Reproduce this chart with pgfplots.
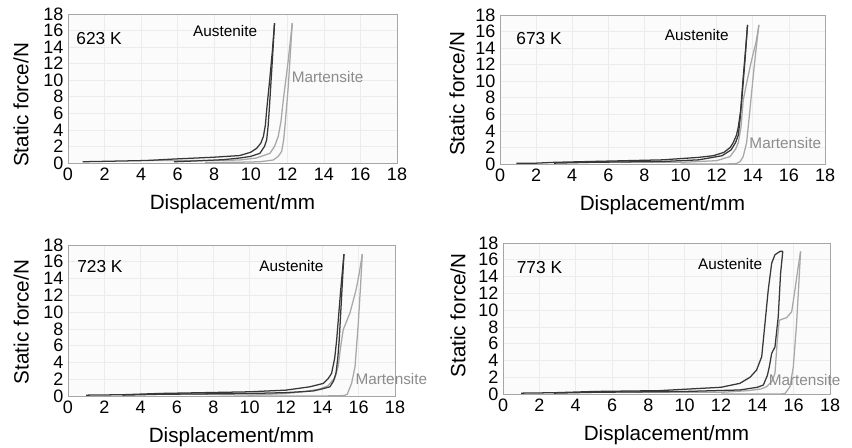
\documentclass[border=0pt]{standalone}
\usepackage{fontspec}
\setmainfont{Liberation Sans}
\usepackage{pgfplots}
\pgfplotsset{compat=1.18}

% curve colours
\definecolor{aus}{gray}{0.22}
\definecolor{mar}{gray}{0.66}

\tikzset{
  a/.style={aus, line width=0.95pt},
  m/.style={mar, line width=0.95pt},
  tag/.style={font=\fontsize{13}{13}\selectfont, anchor=west},
  lbl/.style={font=\fontsize{11.5}{11.5}\selectfont},
}

\pgfplotsset{
  panel/.style={
    scale only axis,
    anchor=south west,
    xmin=0, xmax=18, ymin=0, ymax=18,
    xtick={0,2,...,18}, ytick={0,2,...,18},
    major tick length=0pt,
    grid=major,
    major grid style={gray!15, line width=0.5pt},
    axis background/.style={fill=gray!3},
    axis line style={gray!70, line width=0.6pt},
    /pgf/number format/assume math mode=true,
    ticklabel style={font=\fontsize{13.5}{13.5}\selectfont},
    label style={font=\fontsize{15.5}{15.5}\selectfont},
    xlabel={Displacement/mm},
    ylabel={Static force/N},
    xlabel style={at={(axis description cs:0.5,-0.18)}, anchor=north},
    clip=false,
  },
}

\begin{document}
\begin{tikzpicture}
\useasboundingbox (0,0) rectangle (639pt,336pt);

% 623 K
\begin{axis}[panel, at={(51pt,213.75pt)}, width=246.75pt, height=111.75pt,
  ylabel style={at={(axis description cs:-0.143,0.39)}, anchor=center}]
\addplot[m] coordinates {(4.3,0.3)(6,0.3)(8,0.3)(9.4,0.36)(10.3,0.6)(11.05,1.17)(11.3,2.0)(11.5,3.2)(11.65,5.0)(11.78,7.6)(12.05,12.4)(12.27,16.9)};
\addplot[m] coordinates {(7.5,0.05)(9.5,0.1)(10.5,0.15)(11.23,0.36)(11.5,0.8)(11.69,1.4)(11.8,2.8)(11.87,4.4)(12.05,9.2)(12.27,16.9)};
\addplot[a] coordinates {(0.8,0.15)(2,0.2)(4.3,0.3)(6,0.5)(8,0.7)(9.4,0.9)(10,1.3)(10.32,1.77)(10.55,2.4)(10.69,3.2)(10.8,4.6)(10.87,6.4)(11.05,10.4)(11.18,13.5)(11.3,16.9)};
\addplot[a] coordinates {(5.8,0.15)(7,0.25)(8.5,0.4)(9.4,0.6)(10,0.8)(10.5,1.17)(10.75,2.0)(10.87,2.8)(10.95,4.5)(11.01,6.4)(11.18,12.4)(11.3,16.9)};
\node[tag] at (axis cs:0.2,15.0) {623 K};
\node[lbl] at (axis cs:8.6,15.9) {Austenite};
\node[lbl, text=gray!90] at (axis cs:14.2,10.4) {Martensite};
\end{axis}

% 673 K
\begin{axis}[panel, at={(375pt,213pt)}, width=243.75pt, height=111.75pt,
  ylabel style={at={(axis description cs:-0.132,0.47)}, anchor=center}]
\addplot[m] coordinates {(5,0.3)(7,0.25)(10,0.2)(12,0.4)(12.74,0.9)(13.05,1.8)(13.2,2.6)(13.35,4.5)(13.47,7.7)(13.7,10.2)(13.94,12.6)(14.17,14.6)(14.34,16.8)};
\addplot[m] coordinates {(10,0.0)(12.5,0.0)(13.1,0.05)(13.3,0.3)(13.47,0.9)(13.66,2.6)(13.84,6.5)(14.06,11.4)(14.2,14.2)(14.34,16.8)};
\addplot[a] coordinates {(0.9,0.1)(2,0.1)(3,0.2)(5,0.3)(7,0.4)(9,0.5)(11,0.8)(11.81,1.0)(12.4,1.4)(12.75,2.0)(12.92,2.6)(13.1,3.5)(13.2,4.5)(13.33,6.5)(13.47,10.5)(13.6,13.8)(13.71,16.8)};
\addplot[a] coordinates {(3,0.1)(5,0.2)(7,0.25)(9,0.3)(11,0.5)(12.3,1.0)(12.8,1.7)(13.05,2.6)(13.2,3.5)(13.3,5.5)(13.4,8)(13.55,12)(13.71,16.8)};
\node[tag] at (axis cs:0.65,15.1) {673 K};
\node[lbl] at (axis cs:10.9,15.6) {Austenite};
\node[lbl, text=gray!90] at (axis cs:15.8,2.5) {Martensite};
\end{axis}

% 723 K
\begin{axis}[panel, at={(51pt,39pt)}, width=245.25pt, height=113.25pt,
  ylabel style={at={(axis description cs:-0.143,0.49)}, anchor=center}]
\addplot[m] coordinates {(5,0.3)(7.5,0.2)(10,0.1)(12,0.3)(12.95,0.5)(13.8,0.8)(14.3,1.2)(14.7,2.2)(14.88,3.6)(15.01,5.9)(15.15,7.9)(15.52,9.9)(15.85,12.6)(16.03,14.6)(16.2,16.9)};
\addplot[m] coordinates {(10,0.0)(14,0.0)(15.2,0.05)(15.37,0.2)(15.61,1.5)(15.8,3.5)(15.98,8.7)(16.1,13)(16.2,16.9)};
\addplot[a] coordinates {(1,0.1)(3,0.15)(5,0.3)(7.5,0.4)(10,0.5)(12,0.7)(13.32,1.1)(14.05,1.5)(14.33,2.1)(14.51,2.7)(14.68,4.5)(14.79,6.7)(15.01,12.6)(15.19,16.9)};
\addplot[a] coordinates {(3,0.1)(5,0.2)(10,0.3)(12,0.4)(13.5,0.6)(14.0,0.85)(14.42,1.1)(14.62,1.8)(14.75,2.7)(14.85,4.5)(14.93,6.7)(15.08,12.6)(15.19,16.9)};
\node[tag] at (axis cs:0.25,15.4) {723 K};
\node[lbl] at (axis cs:12.3,15.5) {Austenite};
\node[lbl, text=gray!90] at (axis cs:17.8,2.0) {Martensite};
\end{axis}

% 773 K
\begin{axis}[panel, at={(377.25pt,40.5pt)}, width=245.25pt, height=113.25pt,
  ylabel style={at={(axis description cs:-0.138,0.52)}, anchor=center}]
\addplot[m] coordinates {(5,0.3)(8,0.2)(12,0.2)(13.5,0.4)(14.2,0.6)(14.51,0.87)(14.8,1.5)(14.97,2.46)(15.1,6.4)(15.21,8.8)(15.61,9.1)(15.89,9.8)(16.07,12.4)(16.25,15.2)(16.38,17.0)};
\addplot[m] coordinates {(12,0.0)(15.3,0.0)(15.52,0.05)(15.8,0.87)(15.98,3.25)(16.16,8.4)(16.28,13)(16.38,17.0)};
\addplot[a] coordinates {(1,0.1)(2.8,0.15)(5,0.3)(8.6,0.4)(10.29,0.6)(12,0.8)(13.04,1.27)(13.6,2.0)(13.96,2.86)(14.24,4.45)(14.42,8.4)(14.6,12.4)(14.79,15.6)(14.97,16.6)(15.25,17.0)(15.4,17.0)};
\addplot[a] coordinates {(2.8,0.1)(5,0.2)(10,0.3)(13.04,0.48)(14.0,0.8)(14.33,1.07)(14.55,2.2)(14.66,3.25)(14.79,4.85)(14.97,5.6)(15.15,9.2)(15.28,14.4)(15.4,17.0)};
\node[tag] at (axis cs:0.5,15.1) {773 K};
\node[lbl] at (axis cs:12.5,15.5) {Austenite};
\node[lbl, text=gray!90] at (axis cs:16.6,1.7) {Martensite};
\end{axis}
\end{tikzpicture}
\end{document}
